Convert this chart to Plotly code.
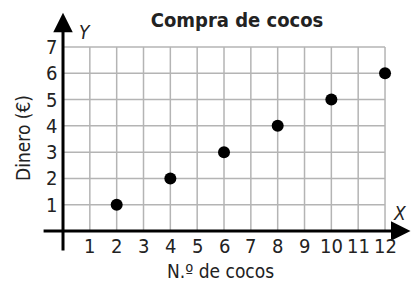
import plotly.graph_objects as go

# Data
cocos = [2, 4, 6, 8, 10, 12]
dinero = [1, 2, 3, 4, 5, 6]
x_ticks = list(range(1, 13))
y_ticks = list(range(1, 8))
title = "Compra de cocos"
x_title = "N.º de cocos"
y_title = "Dinero (€)"

FONT = "DejaVu Sans Condensed, Liberation Sans Narrow, sans-serif"
GRID = "#b4b4b4"
TXT = "#222"

fig = go.Figure()

# Grid lines (built from tick values)
gx, gy = [], []
xmax, ymax = x_ticks[-1], y_ticks[-1]
for t in x_ticks:
    gx += [t, t, None]
    gy += [0, ymax, None]
for t in y_ticks:
    gx += [0, xmax, None]
    gy += [t, t, None]
fig.add_trace(go.Scatter(x=gx, y=gy, mode="lines",
                         line=dict(color=GRID, width=1.5),
                         hoverinfo="skip", showlegend=False))

# Data points
fig.add_trace(go.Scatter(x=cocos, y=dinero, mode="markers",
                         marker=dict(color="black", size=12),
                         showlegend=False, cliponaxis=False))

ann = []
# Axis arrows
ann.append(dict(x=12.95, y=0, ax=-0.78, ay=0, xref="x", yref="y", axref="x", ayref="y",
                showarrow=True, arrowhead=2, arrowsize=1.3, arrowwidth=3, arrowcolor="black", text=""))
ann.append(dict(x=0, y=8.3, ax=0, ay=-0.8, xref="x", yref="y", axref="x", ayref="y",
                showarrow=True, arrowhead=2, arrowsize=1.3, arrowwidth=3, arrowcolor="black", text=""))
# Tick labels
for t in x_ticks:
    ann.append(dict(x=t, y=0, xref="x", yref="y", text=str(t), showarrow=False,
                    xanchor="center", yanchor="top", yshift=-1,
                    font=dict(size=20, color=TXT, family=FONT)))
for t in y_ticks:
    ann.append(dict(x=0, y=t, xref="x", yref="y", text=str(t), showarrow=False,
                    xanchor="right", yanchor="middle", xshift=-4,
                    font=dict(size=20, color=TXT, family=FONT)))
# Axis letters
ann.append(dict(x=0.82, y=7.55, xref="x", yref="y", text="<i>Y</i>", showarrow=False,
                xanchor="center", yanchor="middle", font=dict(size=19, color=TXT, family=FONT)))
ann.append(dict(x=12.55, y=0.7, xref="x", yref="y", text="<i>X</i>", showarrow=False,
                xanchor="center", yanchor="middle", font=dict(size=19, color=TXT, family=FONT)))
# Titles
ann.append(dict(x=220, y=271, xref="paper", yref="paper", text=x_title, showarrow=False))
ann.append(dict(x=23, y=138, xref="paper", yref="paper", text=y_title, textangle=-90, showarrow=False))

W, H = 416, 281
L, R, T, B = 30, 2, 8, 21
pw, ph = W - L - R, H - T - B
for a in ann[-2:]:
    a["x"] = (a["x"] - L) / pw
    a["y"] = (H - B - a["y"]) / ph
    a["xanchor"] = "center"
    a["yanchor"] = "middle"
    a["font"] = dict(size=19, color=TXT, family=FONT)

fig.update_layout(
    width=W, height=H,
    margin=dict(l=L, r=R, t=T, b=B),
    plot_bgcolor="white", paper_bgcolor="white",
    xaxis=dict(range=[-1.23, 13.08], visible=False),
    yaxis=dict(range=[-1.10, 8.48], visible=False),
    annotations=ann,
    title=dict(text="<b>" + title + "</b>", x=237 / W, xanchor="center",
               y=1 - 20 / H, yanchor="middle", xref="container", yref="container",
               font=dict(size=20, color=TXT, family=FONT)),
)

fig.write_html("out.html", config={"displayModeBar": False},
               post_script="document.body.style.margin='0';")
